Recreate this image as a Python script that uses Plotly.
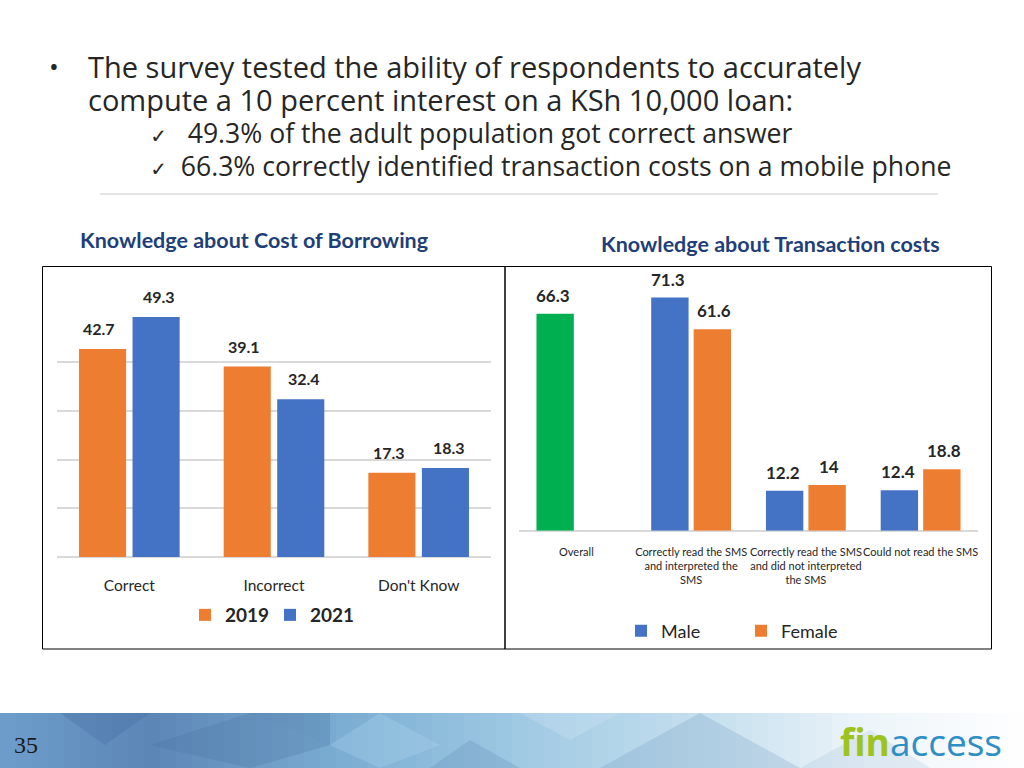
import plotly.graph_objects as go

# ---------------- data ----------------
borrow_categories = ["Correct", "Incorrect", "Don't Know"]
borrow_2019 = [42.7, 39.1, 17.3]
borrow_2021 = [49.3, 32.4, 18.3]

trans_categories = ["Overall",
                    "Correctly read the SMS<br>and interpreted the<br>SMS",
                    "Correctly read the SMS<br>and did not interpreted<br>the SMS",
                    "Could not read the SMS"]
trans_male = [66.3, 71.3, 12.2, 12.4]      # first value = Overall (drawn green)
trans_female = [None, 61.6, 14.0, 18.8]

header_lines = [
    "The survey tested the ability of respondents to accurately",
    "compute a 10 percent interest on a KSh 10,000 loan:",
]
check_lines = [
    "49.3% of the adult population got correct answer",
    "66.3% correctly identified transaction costs on a mobile phone",
]
title_left = "Knowledge about Cost of Borrowing"
title_right = "Knowledge about Transaction costs"
page_number = "35"

# ---------------- styles ----------------
ORANGE = "#ED7D31"
BLUE = "#4472C4"
GREEN = "#00B050"
NAVY = "#1F3F78"
W, H = 1024, 768
CAL = "Lato, Carlito, sans-serif"
BODY = "Open Sans, Noto Sans, sans-serif"
NB = "\u00a0"


def px(x):
    return x / W


def py(y):
    return 1 - y / H


fig = go.Figure()

# left chart bars
fig.add_trace(go.Bar(x=borrow_categories, y=borrow_2019, name="2019",
                     marker=dict(color=ORANGE, line=dict(width=0)),
                     xaxis="x", yaxis="y", legend="legend"))
fig.add_trace(go.Bar(x=borrow_categories, y=borrow_2021, name="2021",
                     marker=dict(color=BLUE, line=dict(width=0)),
                     xaxis="x", yaxis="y", legend="legend"))

# right chart bars (Overall listed last in the trace so the legend swatch is blue)
order = [1, 2, 3, 0]
male_x = [trans_categories[i] for i in order]
male_y = [trans_male[i] for i in order]
male_c = [GREEN if i == 0 else BLUE for i in order]
fem_x = [trans_categories[i] for i in order]
fem_y = [trans_female[i] for i in order]
fig.add_trace(go.Bar(x=male_x, y=male_y, name="Male",
                     marker=dict(color=male_c, line=dict(width=0)),
                     xaxis="x2", yaxis="y2", legend="legend2"))
fig.add_trace(go.Bar(x=fem_x, y=fem_y, name="Female",
                     marker=dict(color=ORANGE, line=dict(width=0)),
                     xaxis="x2", yaxis="y2", legend="legend2"))

annotations = []
# value labels, left chart
for cat, a, b in zip(borrow_categories, borrow_2019, borrow_2021):
    for v, sh in ((a, -30), (b, 30)):
        annotations.append(dict(x=cat, y=v, xref="x", yref="y", text=f"<b>{v}</b>",
                                showarrow=False, yanchor="bottom", xshift=sh, yshift=9,
                                font=dict(family=CAL, size=16, color="#262626")))
# value labels, right chart
for cat, m, f in zip(trans_categories, trans_male, trans_female):
    for v, sh in ((m, -23), (f, 23)):
        if v is None:
            continue
        lab = f"{v:g}"
        annotations.append(dict(x=cat, y=v, xref="x2", yref="y2", text=f"<b>{lab}</b>",
                                showarrow=False, yanchor="bottom", xshift=sh, yshift=6,
                                font=dict(family=CAL, size=17, color="#262626")))

# header text block (one text box so the lines do not collide)
CHK = "<span style='font-family:DejaVu Sans;font-size:20px'>✓</span>"
block = "<br>".join([
    f"<span style='font-size:29px'>{header_lines[0]}</span>",
    f"<span style='font-size:29px'>{header_lines[1]}</span>",
    f"<span style='font-size:26.6px'>{NB * 9}</span>{CHK}<span style='font-size:26.6px'>{NB * 3}{check_lines[0]}</span>",
    f"<span style='font-size:26.6px'>{NB * 9}</span>{CHK}<span style='font-size:26.6px'>{NB * 2}{check_lines[1]}</span>",
])
annotations.append(dict(x=px(86), y=py(116), xref="paper", yref="paper", text=block,
                        showarrow=False, xanchor="left", yanchor="middle", align="left",
                        font=dict(family=BODY, size=25, color="#262626")))
annotations.append(dict(x=px(47), y=py(66), xref="paper", yref="paper", text="•",
                        showarrow=False, xanchor="left", yanchor="middle",
                        font=dict(family=BODY, size=26, color="#262626")))

# chart titles
annotations.append(dict(x=px(78), y=py(240), xref="paper", yref="paper", text=f"<b>{title_left}</b>",
                        showarrow=False, xanchor="left", yanchor="middle",
                        font=dict(family=CAL, size=21.5, color=NAVY)))
annotations.append(dict(x=px(599), y=py(244), xref="paper", yref="paper", text=f"<b>{title_right}</b>",
                        showarrow=False, xanchor="left", yanchor="middle",
                        font=dict(family=CAL, size=21.5, color=NAVY)))

# footer texts
annotations.append(dict(x=px(12), y=py(745), xref="paper", yref="paper", text=page_number,
                        showarrow=False, xanchor="left", yanchor="middle",
                        font=dict(family="Liberation Serif, serif", size=24, color="#1a1a1a")))
annotations.append(dict(x=px(1003), y=py(741), xref="paper", yref="paper",
                        text="<b><span style='color:#9DC41E'>fin</span></b><span style='color:#2E8EC6'>access</span>",
                        showarrow=False, xanchor="right", yanchor="middle", borderpad=0,
                        font=dict(family="Open Sans, sans-serif", size=37)))

shapes = []
# footer gradient band
stops = [(0, (110, 158, 205)), (150, (92, 134, 182)), (350, (125, 175, 212)),
         (520, (160, 202, 228)), (720, (200, 225, 240)), (870, (238, 245, 250)), (1024, (255, 255, 255))]


def col_at(x):
    for (x0, c0), (x1, c1) in zip(stops[:-1], stops[1:]):
        if x0 <= x <= x1:
            t = (x - x0) / (x1 - x0)
            return "rgb(%d,%d,%d)" % tuple(int(c0[k] + (c1[k] - c0[k]) * t) for k in range(3))
    return "rgb(255,255,255)"


step = 16
for x0 in range(0, W, step):
    shapes.append(dict(type="rect", xref="paper", yref="paper", x0=px(x0), x1=px(x0 + step + 0.5),
                       y0=0, y1=py(713), fillcolor=col_at(x0 + step / 2), line=dict(width=0), layer="below"))
# diamond facets for texture
facets = [
    ([(60, 713), (150, 713), (105, 745)], "rgba(60,100,150,0.25)"),
    ([(150, 745), (250, 713), (330, 745), (250, 768)], "rgba(70,110,160,0.25)"),
    ([(330, 745), (380, 713), (440, 745), (380, 768)], "rgba(170,210,235,0.35)"),
    ([(250, 713), (330, 713), (330, 745)], "rgba(50,90,140,0.2)"),
    ([(600, 768), (700, 713), (800, 768)], "rgba(110,150,190,0.25)"),
    ([(430, 768), (470, 740), (520, 768)], "rgba(90,130,175,0.25)"),
    ([(520, 713), (620, 713), (570, 740)], "rgba(210,230,245,0.3)"),
    ([(800, 768), (870, 730), (930, 768)], "rgba(150,180,210,0.2)"),
]
for pts, c in facets:
    path = "M " + " L ".join(f"{px(x):.5f},{py(y):.5f}" for x, y in pts) + " Z"
    shapes.append(dict(type="path", xref="paper", yref="paper", path=path, fillcolor=c,
                       line=dict(width=0), layer="below"))

# header rule
shapes.append(dict(type="line", xref="paper", yref="paper", x0=px(100), x1=px(938), y0=py(194), y1=py(194),
                   line=dict(color="#C8C8C8", width=1)))
# chart boxes
shapes.append(dict(type="rect", xref="paper", yref="paper", x0=px(42.5), x1=px(505), y0=py(649), y1=py(266.5),
                   line=dict(color="#000000", width=1)))
shapes.append(dict(type="rect", xref="paper", yref="paper", x0=px(505), x1=px(991.5), y0=py(649), y1=py(266.5),
                   line=dict(color="#000000", width=1)))

fig.update_layout(
    width=W, height=H, autosize=False,
    margin=dict(l=0, r=0, t=0, b=0, pad=0, autoexpand=False),
    paper_bgcolor="white", plot_bgcolor="rgba(0,0,0,0)",
    barmode="group", bargap=0.26, bargroupgap=0.12,
    xaxis=dict(domain=[px(57), px(491)], anchor="y", showgrid=False, showline=False,
               ticks="", ticklabelstandoff=17, tickangle=0, automargin=False,
               tickfont=dict(family=CAL, size=15.5, color="#262626"), fixedrange=True),
    yaxis=dict(domain=[py(557), py(313.5)], anchor="x", range=[0, 50], dtick=10,
               showgrid=True, gridcolor="#D9D9D9", gridwidth=1.5, zeroline=True, automargin=False,
               zerolinecolor="#D9D9D9", zerolinewidth=1.5, showticklabels=False, fixedrange=True),
    xaxis2=dict(domain=[px(519), px(978)], anchor="y2", showgrid=False, showline=False,
                ticks="", ticklabelstandoff=13, tickangle=0, automargin=False,
                categoryorder="array", categoryarray=trans_categories,
                tickfont=dict(family=CAL, size=11, color="#262626"), fixedrange=True),
    yaxis2=dict(domain=[py(530.7), py(285.4)], anchor="x2", range=[0, 75], automargin=False,
                showgrid=False, zeroline=True, zerolinecolor="#D9D9D9", zerolinewidth=1.5,
                showticklabels=False, fixedrange=True),
    legend=dict(orientation="h", x=px(185), y=py(615), xanchor="left", yanchor="middle",
                font=dict(family=CAL, size=19, color="#262626", weight="bold"),
                entrywidth=40, entrywidthmode="pixels", tracegroupgap=0,
                bgcolor="rgba(0,0,0,0)", itemclick=False, itemdoubleclick=False),
    legend2=dict(orientation="h", x=px(621), y=py(631), xanchor="left", yanchor="middle",
                 font=dict(family=CAL, size=18, color="#262626"),
                 entrywidth=75, entrywidthmode="pixels",
                 bgcolor="rgba(0,0,0,0)", itemclick=False, itemdoubleclick=False),
    annotations=annotations,
    shapes=shapes,
    showlegend=True,
)

fig.write_html("out.html", config={"displayModeBar": False},
               post_script="document.body.style.margin='0';document.body.style.overflow='hidden';")
